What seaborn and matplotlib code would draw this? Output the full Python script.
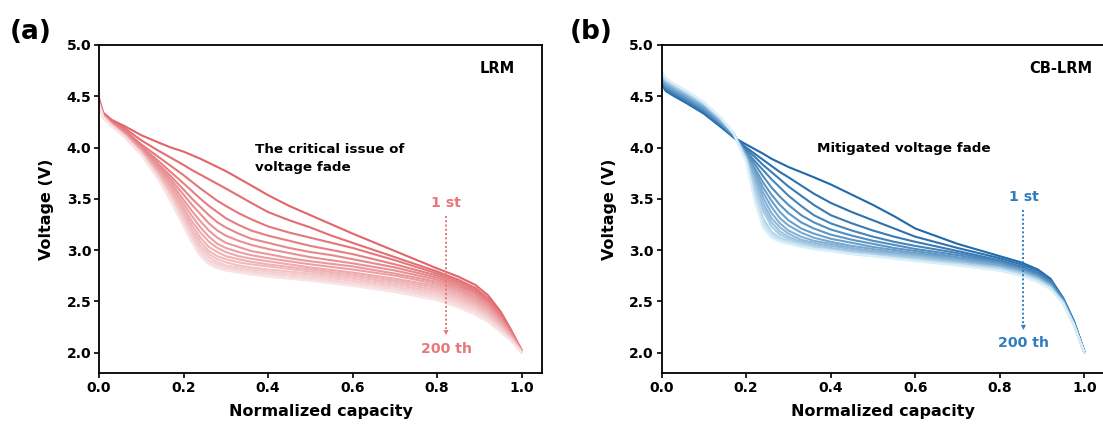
import numpy as np
import pandas as pd
import matplotlib
matplotlib.use("Agg")
import matplotlib.pyplot as plt
import seaborn as sns
from matplotlib.colors import LinearSegmentedColormap, to_hex

# ---------------- data ----------------
capacity = [0.00, 0.01, 0.03, 0.06, 0.10, 0.14, 0.17, 0.20, 0.22, 0.24, 0.26, 0.28, 0.30, 0.33, 0.36,
            0.40, 0.45, 0.50, 0.55, 0.60, 0.70, 0.80,
            0.85, 0.89, 0.92, 0.95, 0.975, 1.00]

cycle_labels = ["1", "14", "27", "40", "54", "67", "80", "94",
                "107", "120", "134", "147", "160", "174", "187", "200"]

lrm_voltage = [
    [4.48, 4.34, 4.27, 4.21, 4.12, 4.05, 4.00, 3.96, 3.925, 3.89, 3.85, 3.81, 3.77, 3.70, 3.63, 3.535, 3.43, 3.34, 3.25, 3.16, 2.99, 2.82, 2.74, 2.66, 2.56, 2.40, 2.22, 2.02],
    [4.46, 4.33, 4.26, 4.19, 4.07, 3.97, 3.90, 3.83, 3.78, 3.735, 3.69, 3.645, 3.60, 3.53, 3.46, 3.37, 3.29, 3.22, 3.14, 3.07, 2.93, 2.79, 2.71, 2.63, 2.53, 2.38, 2.21, 2.02],
    [4.45, 4.32, 4.25, 4.17, 4.03, 3.91, 3.82, 3.73, 3.665, 3.60, 3.54, 3.48, 3.43, 3.36, 3.30, 3.23, 3.17, 3.12, 3.07, 3.02, 2.90, 2.77, 2.69, 2.61, 2.52, 2.37, 2.20, 2.02],
    [4.45, 4.32, 4.24, 4.16, 4.01, 3.87, 3.76, 3.65, 3.575, 3.50, 3.43, 3.37, 3.31, 3.245, 3.19, 3.14, 3.09, 3.04, 3.00, 2.96, 2.86, 2.75, 2.67, 2.59, 2.50, 2.36, 2.20, 2.01],
    [4.44, 4.32, 4.24, 4.15, 4.00, 3.84, 3.72, 3.59, 3.50, 3.42, 3.34, 3.27, 3.22, 3.16, 3.11, 3.07, 3.02, 2.98, 2.95, 2.91, 2.83, 2.73, 2.65, 2.58, 2.48, 2.34, 2.19, 2.01],
    [4.44, 4.31, 4.23, 4.14, 3.99, 3.82, 3.69, 3.54, 3.44, 3.35, 3.26, 3.19, 3.14, 3.09, 3.05, 3.01, 2.97, 2.93, 2.90, 2.87, 2.80, 2.71, 2.63, 2.56, 2.47, 2.33, 2.18, 2.01],
    [4.44, 4.31, 4.23, 4.14, 3.98, 3.80, 3.66, 3.49, 3.38, 3.28, 3.19, 3.12, 3.07, 3.03, 2.99, 2.96, 2.92, 2.89, 2.865, 2.84, 2.77, 2.69, 2.61, 2.54, 2.45, 2.32, 2.17, 2.01],
    [4.43, 4.31, 4.23, 4.13, 3.97, 3.78, 3.63, 3.45, 3.33, 3.22, 3.13, 3.06, 3.02, 2.98, 2.95, 2.92, 2.89, 2.86, 2.835, 2.81, 2.75, 2.67, 2.60, 2.52, 2.43, 2.30, 2.17, 2.01],
    [4.43, 4.31, 4.22, 4.13, 3.96, 3.77, 3.60, 3.41, 3.28, 3.17, 3.08, 3.02, 2.98, 2.94, 2.915, 2.89, 2.86, 2.83, 2.805, 2.78, 2.72, 2.65, 2.58, 2.50, 2.42, 2.29, 2.16, 2.01],
    [4.43, 4.30, 4.22, 4.12, 3.96, 3.75, 3.58, 3.38, 3.24, 3.12, 3.03, 2.98, 2.94, 2.91, 2.885, 2.86, 2.835, 2.81, 2.785, 2.76, 2.70, 2.63, 2.56, 2.48, 2.40, 2.28, 2.15, 2.01],
    [4.43, 4.30, 4.22, 4.12, 3.95, 3.74, 3.56, 3.35, 3.20, 3.08, 2.99, 2.94, 2.91, 2.88, 2.86, 2.84, 2.815, 2.79, 2.765, 2.74, 2.68, 2.61, 2.54, 2.46, 2.38, 2.26, 2.15, 2.01],
    [4.42, 4.30, 4.22, 4.12, 3.95, 3.73, 3.54, 3.32, 3.17, 3.04, 2.96, 2.91, 2.88, 2.85, 2.83, 2.81, 2.79, 2.77, 2.745, 2.72, 2.66, 2.59, 2.52, 2.44, 2.37, 2.25, 2.14, 2.00],
    [4.42, 4.30, 4.21, 4.11, 3.94, 3.72, 3.52, 3.30, 3.14, 3.01, 2.93, 2.88, 2.85, 2.83, 2.81, 2.79, 2.77, 2.75, 2.725, 2.70, 2.64, 2.57, 2.50, 2.43, 2.35, 2.24, 2.13, 2.00],
    [4.42, 4.30, 4.21, 4.11, 3.94, 3.71, 3.51, 3.27, 3.11, 2.98, 2.90, 2.86, 2.83, 2.81, 2.79, 2.77, 2.75, 2.73, 2.705, 2.68, 2.62, 2.55, 2.48, 2.41, 2.33, 2.23, 2.12, 2.00],
    [4.42, 4.29, 4.21, 4.11, 3.93, 3.70, 3.49, 3.25, 3.09, 2.96, 2.88, 2.84, 2.81, 2.79, 2.77, 2.75, 2.73, 2.715, 2.69, 2.67, 2.61, 2.53, 2.46, 2.39, 2.32, 2.21, 2.12, 2.00],
    [4.41, 4.29, 4.21, 4.10, 3.93, 3.69, 3.47, 3.23, 3.07, 2.94, 2.86, 2.82, 2.80, 2.78, 2.76, 2.74, 2.72, 2.70, 2.675, 2.65, 2.59, 2.51, 2.44, 2.37, 2.30, 2.20, 2.11, 2.00],
]

cblrm_voltage = [
    [4.62, 4.55, 4.50, 4.43, 4.33, 4.20, 4.10, 4.03, 3.985, 3.94, 3.89, 3.85, 3.81, 3.76, 3.71, 3.64, 3.54, 3.44, 3.33, 3.21, 3.06, 2.94, 2.88, 2.81, 2.72, 2.53, 2.31, 2.01],
    [4.63, 4.56, 4.51, 4.44, 4.34, 4.21, 4.10, 4.00, 3.94, 3.88, 3.82, 3.76, 3.71, 3.63, 3.55, 3.46, 3.37, 3.29, 3.21, 3.13, 3.02, 2.92, 2.86, 2.80, 2.71, 2.53, 2.31, 2.01],
    [4.64, 4.57, 4.52, 4.45, 4.35, 4.22, 4.11, 3.98, 3.91, 3.83, 3.76, 3.69, 3.62, 3.53, 3.44, 3.34, 3.26, 3.19, 3.13, 3.08, 2.99, 2.90, 2.84, 2.78, 2.70, 2.52, 2.30, 2.01],
    [4.65, 4.58, 4.53, 4.46, 4.36, 4.23, 4.11, 3.96, 3.87, 3.78, 3.69, 3.61, 3.53, 3.43, 3.34, 3.26, 3.19, 3.13, 3.08, 3.04, 2.97, 2.89, 2.83, 2.77, 2.69, 2.52, 2.30, 2.01],
    [4.66, 4.59, 4.54, 4.47, 4.37, 4.23, 4.12, 3.95, 3.84, 3.72, 3.61, 3.52, 3.44, 3.34, 3.27, 3.20, 3.14, 3.09, 3.05, 3.01, 2.95, 2.88, 2.82, 2.76, 2.68, 2.51, 2.30, 2.01],
    [4.66, 4.60, 4.55, 4.48, 4.38, 4.24, 4.12, 3.94, 3.80, 3.66, 3.54, 3.44, 3.36, 3.27, 3.21, 3.15, 3.10, 3.06, 3.02, 2.99, 2.93, 2.87, 2.81, 2.75, 2.67, 2.51, 2.29, 2.00],
    [4.67, 4.61, 4.56, 4.49, 4.39, 4.25, 4.13, 3.93, 3.77, 3.61, 3.48, 3.37, 3.29, 3.21, 3.16, 3.11, 3.07, 3.03, 3.00, 2.97, 2.92, 2.86, 2.80, 2.74, 2.66, 2.50, 2.29, 2.00],
    [4.68, 4.62, 4.57, 4.50, 4.40, 4.25, 4.13, 3.92, 3.74, 3.56, 3.42, 3.31, 3.24, 3.17, 3.12, 3.08, 3.04, 3.01, 2.98, 2.96, 2.91, 2.85, 2.80, 2.73, 2.66, 2.50, 2.29, 2.00],
    [4.69, 4.63, 4.58, 4.51, 4.41, 4.26, 4.13, 3.91, 3.71, 3.51, 3.36, 3.26, 3.19, 3.13, 3.09, 3.06, 3.02, 2.99, 2.97, 2.95, 2.90, 2.84, 2.79, 2.73, 2.65, 2.50, 2.28, 2.00],
    [4.70, 4.64, 4.59, 4.52, 4.42, 4.27, 4.14, 3.90, 3.68, 3.46, 3.31, 3.22, 3.16, 3.10, 3.07, 3.04, 3.01, 2.98, 2.96, 2.94, 2.89, 2.83, 2.78, 2.72, 2.65, 2.49, 2.28, 2.00],
    [4.70, 4.65, 4.59, 4.52, 4.42, 4.27, 4.14, 3.90, 3.65, 3.42, 3.27, 3.18, 3.13, 3.08, 3.05, 3.02, 2.99, 2.97, 2.95, 2.93, 2.88, 2.83, 2.78, 2.72, 2.64, 2.49, 2.28, 2.00],
    [4.71, 4.65, 4.60, 4.53, 4.43, 4.28, 4.14, 3.89, 3.62, 3.38, 3.23, 3.15, 3.11, 3.07, 3.04, 3.01, 2.98, 2.96, 2.94, 2.92, 2.87, 2.82, 2.77, 2.71, 2.64, 2.49, 2.28, 2.00],
    [4.72, 4.66, 4.61, 4.54, 4.43, 4.28, 4.14, 3.88, 3.56, 3.31, 3.18, 3.12, 3.09, 3.06, 3.03, 3.00, 2.97, 2.95, 2.93, 2.91, 2.87, 2.82, 2.77, 2.71, 2.63, 2.48, 2.27, 2.00],
    [4.72, 4.67, 4.61, 4.54, 4.44, 4.29, 4.14, 3.87, 3.53, 3.28, 3.16, 3.10, 3.08, 3.05, 3.02, 3.00, 2.97, 2.95, 2.92, 2.90, 2.86, 2.81, 2.76, 2.70, 2.63, 2.48, 2.27, 2.00],
    [4.73, 4.67, 4.62, 4.55, 4.44, 4.29, 4.14, 3.87, 3.50, 3.25, 3.14, 3.09, 3.07, 3.04, 3.01, 2.99, 2.96, 2.94, 2.92, 2.90, 2.85, 2.80, 2.75, 2.69, 2.62, 2.48, 2.27, 2.00],
    [4.74, 4.68, 4.62, 4.55, 4.44, 4.29, 4.14, 3.86, 3.48, 3.22, 3.12, 3.08, 3.06, 3.03, 3.01, 2.99, 2.96, 2.94, 2.915, 2.89, 2.85, 2.80, 2.75, 2.69, 2.62, 2.48, 2.27, 2.00],
]

x_ticks = [0.0, 0.2, 0.4, 0.6, 0.8, 1.0]
y_ticks = [2.0, 2.5, 3.0, 3.5, 4.0, 4.5, 5.0]
panel_letters = ["(a)", "(b)"]
sample_names = ["LRM", "CB-LRM"]
notes = ["The critical issue of\nvoltage fade", "Mitigated voltage fade"]
first_label, last_label = "1 st", "200 th"

# ---------------- style ----------------
sns.set_theme(style="ticks")
plt.rcParams["font.family"] = ["DejaVu Sans"]
plt.rcParams["font.weight"] = "bold"
plt.rcParams["axes.labelweight"] = "bold"
plt.rcParams["text.color"] = "black"
plt.rcParams["axes.labelcolor"] = "black"
plt.rcParams["xtick.color"] = "black"
plt.rcParams["ytick.color"] = "black"


def long_table(volts):
    rows = []
    for lab, v in zip(cycle_labels, volts):
        for c, u in zip(capacity, v):
            rows.append({"capacity": c, "voltage": u, "cycle": lab})
    return pd.DataFrame(rows)


red_map = LinearSegmentedColormap.from_list("r", ["#E0666A", "#F9E3E4"])
blue_map = LinearSegmentedColormap.from_list("b", ["#2169AA", "#D9EFF9"])
n = len(cycle_labels)
red_pal = [to_hex(red_map(i / (n - 1))) for i in range(n)]
blue_pal = [to_hex(blue_map(i / (n - 1))) for i in range(n)]

W, H = 1103, 432
fig = plt.figure(figsize=(W / 100, H / 100), dpi=100)
ax_w, ax_h = 443 / W, 328 / H
ax_b = 59 / H
axes = [fig.add_axes([99 / W, ax_b, ax_w, ax_h]),
        fig.add_axes([661.6 / W, ax_b, ax_w, ax_h])]

panels = [
    (lrm_voltage, red_pal, "#E8777B", 0.821, (3.46, 3.33, 2.17, 2.03), 0.985, (0.37, 3.895)),
    (cblrm_voltage, blue_pal, "#2F7DC0", 0.856, (3.52, 3.39, 2.22, 2.09), 1.02, (0.368, 3.995)),
]

for i, (ax, (volts, pal, tcol, ax_x, ys, name_x, note_xy)) in enumerate(zip(axes, panels)):
    df = long_table(volts)
    sns.lineplot(data=df, x="capacity", y="voltage", hue="cycle", palette=pal,
                 sort=False, estimator=None, legend=False, linewidth=1.5, ax=ax)
    ax.set_xlim(0, 1.048)
    ax.set_ylim(1.8, 5.0)
    ax.set_xticks(x_ticks)
    ax.set_yticks(y_ticks)
    ax.set_xticklabels([f"{t:.1f}" for t in x_ticks], fontsize=10, fontweight="bold")
    ax.set_yticklabels([f"{t:.1f}" for t in y_ticks], fontsize=10, fontweight="bold")
    ax.tick_params(direction="out", length=3.5, width=1.2, colors="black", pad=2)
    for s in ax.spines.values():
        s.set_linewidth(1.3)
        s.set_color("black")
        s.set_visible(True)
    ax.set_xlabel("Normalized capacity", fontsize=11.5, fontweight="bold", labelpad=7)
    ax.set_ylabel("Voltage (V)", fontsize=11.5, fontweight="bold", labelpad=9)

    ax.text(name_x, 4.77, sample_names[i], ha="right", va="center",
            fontsize=10.5, fontweight="bold", color="black")
    ax.text(note_xy[0], note_xy[1], notes[i], ha="left", va="center",
            fontsize=9.7, fontweight="bold", color="black", linespacing=1.45)

    y_txt1, y_start, y_end, y_txt2 = ys
    ax.text(ax_x, y_txt1, first_label, ha="center", va="center",
            fontsize=10.2, fontweight="bold", color=tcol)
    ax.text(ax_x, y_txt2, last_label, ha="center", va="center",
            fontsize=10.2, fontweight="bold", color=tcol)
    ax.plot([ax_x, ax_x], [y_start, y_end + 0.06], color=tcol, lw=1.4,
            ls=(0, (1, 1.2)))
    ax.annotate("", xy=(ax_x, y_end), xytext=(ax_x, y_end + 0.08),
                arrowprops=dict(arrowstyle="-|>", color=tcol, lw=0.01,
                                mutation_scale=9, shrinkA=0, shrinkB=0))

fig.text(10 / W, 1 - 32 / H, panel_letters[0], fontsize=19, fontweight="bold",
         ha="left", va="center", color="black")
fig.text(570 / W, 1 - 32 / H, panel_letters[1], fontsize=19, fontweight="bold",
         ha="left", va="center", color="black")

fig.savefig("out.png", dpi=100, facecolor="white")
